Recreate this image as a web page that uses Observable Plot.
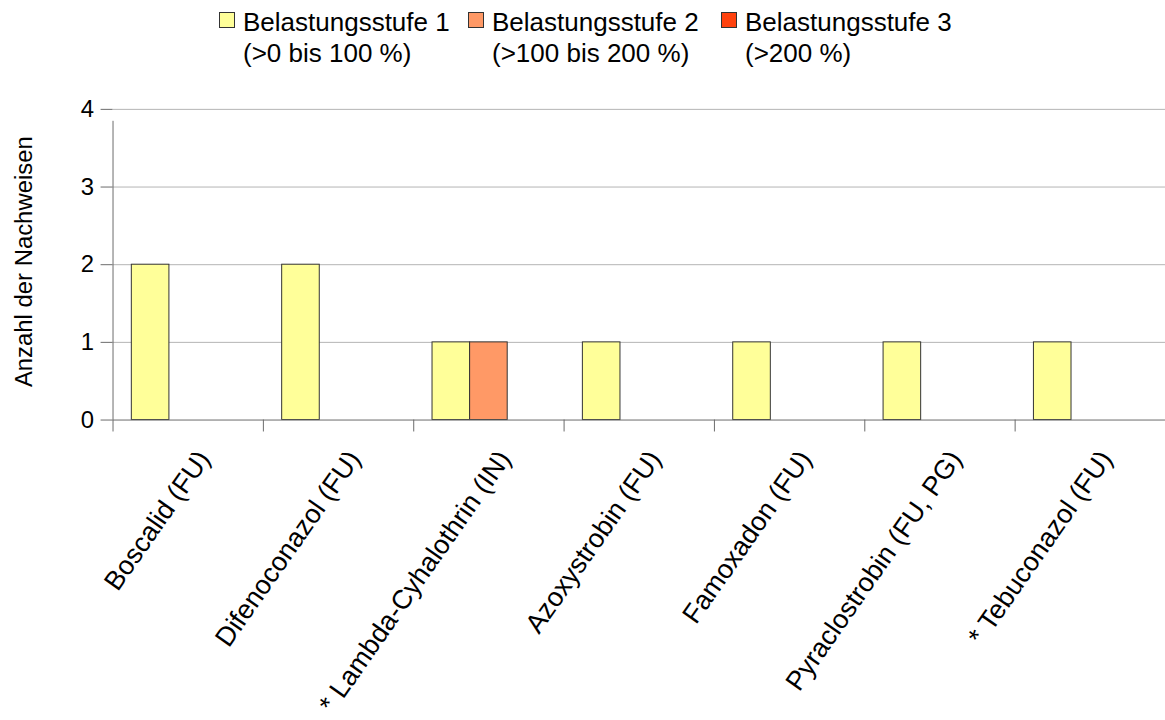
<!DOCTYPE html>
<html>
<head>
<meta charset="utf-8">
<script src="https://cdn.jsdelivr.net/npm/d3@7"></script>
<script src="https://cdn.jsdelivr.net/npm/@observablehq/plot@0.6"></script>
<style>
html, body { margin: 0; padding: 0; background: #fff; overflow: hidden; width: 1165px; height: 720px; }
body { font-family: "Liberation Sans", Arial, sans-serif; }
#legend { height: 80px; position: relative; }
.item { position: absolute; top: 7px; display: flex; align-items: flex-start; }
.sw { width: 14px; height: 14px; border: 1px solid #333; margin-top: 5px; margin-right: 8px; flex: none; }
.lbl { font-size: 26px; line-height: 31px; color: #000; white-space: nowrap; }
#chart svg { display: block; }
</style>
</head>
<body>
<div id="legend"></div>
<div id="chart"></div>
<script>
const categories = [
  "Boscalid (FU)",
  "Difenoconazol (FU)",
  "* Lambda-Cyhalothrin (IN)",
  "Azoxystrobin (FU)",
  "Famoxadon (FU)",
  "Pyraclostrobin (FU, PG)",
  "* Tebuconazol (FU)"
];
const stufe1 = [2, 2, 1, 1, 1, 1, 1];
const stufe2 = [0, 0, 1, 0, 0, 0, 0];
const stufe3 = [0, 0, 0, 0, 0, 0, 0];
const seriesNames = ["Belastungsstufe 1", "Belastungsstufe 2", "Belastungsstufe 3"];
const seriesRanges = ["(>0 bis 100 %)", "(>100 bis 200 %)", "(>200 %)"];
const seriesColors = ["#ffff99", "#ff9966", "#ff420e"];
const yTicks = [0, 1, 2, 3, 4];
const yLabel = "Anzahl der Nachweisen";

// legend
const legendLeft = [219, 468, 721];
const legend = document.getElementById("legend");
seriesNames.forEach((name, i) => {
  const item = document.createElement("div");
  item.className = "item";
  item.style.left = legendLeft[i] + "px";
  const sw = document.createElement("div");
  sw.className = "sw";
  sw.style.background = seriesColors[i];
  const lbl = document.createElement("div");
  lbl.className = "lbl";
  lbl.innerHTML = name + "<br>" + seriesRanges[i];
  item.appendChild(sw);
  item.appendChild(lbl);
  legend.appendChild(item);
});

const seriesValues = [stufe1, stufe2, stufe3];
const width = 1170, marginLeft = 113, marginRight = 0;
const bw = (width - marginLeft - marginRight) / categories.length;
const nSlots = seriesNames.length + 1;
const axisColor = "#6b6b6b";
const tick = 12;

const barMarks = seriesValues.map((vals, i) => {
  const data = categories.map((c, j) => ({cat: c, value: vals[j], series: seriesNames[i]})).filter(d => d.value > 0);
  const left = bw / (2 * nSlots) + i * bw / nSlots;
  return Plot.barY(data, {
    x: "cat", y: "value", fill: seriesColors[i],
    stroke: "#333", strokeWidth: 1,
    insetLeft: left, insetRight: bw - left - bw / nSlots
  });
});

const chart = Plot.plot({
  width, height: 640,
  marginLeft, marginRight, marginTop: 29, marginBottom: 299,
  style: {fontFamily: "Liberation Sans, Arial, sans-serif", color: "#000", background: "#fff"},
  x: {domain: categories, padding: 0, axis: null},
  y: {domain: [d3.min(yTicks), d3.max(yTicks)], axis: null},
  marks: [
    Plot.gridY(yTicks.filter(v => v > 0), {stroke: "#b3b3b3", strokeOpacity: 1}),
    ...barMarks,
    Plot.ruleY([d3.min(yTicks)], {stroke: axisColor}),
    Plot.ruleX([categories[0]], {x: d => d, dx: -bw / 2, y1: d3.min(yTicks), y2: d3.max(yTicks), insetBottom: -tick, stroke: axisColor}),
    Plot.axisY(yTicks, {tickSize: tick, tickPadding: 7, fontSize: 24, tickFormat: d3.format("d"), label: null, stroke: axisColor}),
    Plot.axisX({tickSize: tick, tickFormat: () => "", dx: -bw / 2, label: null, stroke: axisColor}),
    Plot.axisX({tickSize: 0, tickPadding: 34, dx: 16, tickRotate: -55, fontSize: 27, label: null}),
    Plot.text([yLabel], {frameAnchor: "left", textAnchor: "middle", rotate: -90, dx: -89, dy: -3, fontSize: 24})
  ]
});
document.getElementById("chart").appendChild(chart);
</script>
</body>
</html>
